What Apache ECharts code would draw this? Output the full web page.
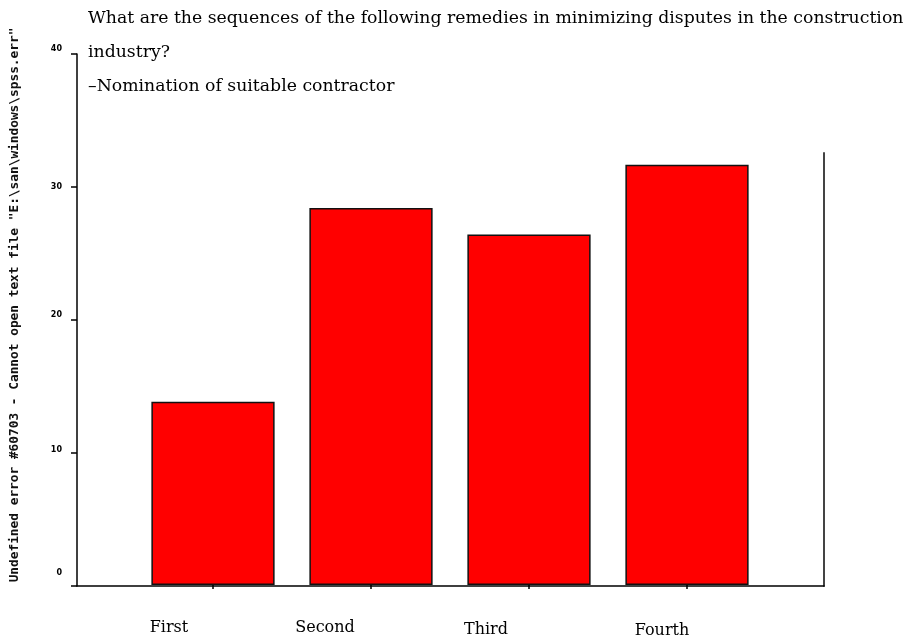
<!DOCTYPE html>
<html><head><meta charset="utf-8">
<script src="https://cdn.jsdelivr.net/npm/echarts@6/dist/echarts.min.js"></script>
<style>html,body{margin:0;padding:0;background:#fff}#c{width:909px;height:639px}</style>
</head><body><div id="c"></div>
<script>
const categories = ['First', 'Second', 'Third', 'Fourth'];
const values = [13.8, 28.4, 26.4, 31.65];
const yTicks = [0, 10, 20, 30, 40];
const titleLines = [
  'What are the sequences of the following remedies in minimizing disputes in the construction',
  'industry?',
  '\u2013Nomination of suitable contractor'
];
const sideNote = 'Undefined error #60703 - Cannot open text file "E:\\san\\windows\\spss.err"';

const yMin = yTicks[0], yMax = yTicks[yTicks.length - 1], yStep = yTicks[1] - yTicks[0];

// per-label small offsets to mimic the reference's jitter
const catRich = {
  c0: { padding: [0, 88, 0, 0] },
  c1: { padding: [0, 92, 0, 0] },
  c2: { padding: [2, 86, 0, 0] },
  c3: { padding: [3, 50, 0, 0] }
};
const yRich = {
  y0: { padding: [0, 0, 26, 0] },
  y10: { padding: [0, 0, 6, 0] },
  y20: { padding: [0, 0, 10, 0] },
  y30: { padding: [0, 0, 0, 0] },
  y40: { padding: [0, 0, 10, 0] }
};
Object.values(catRich).forEach(s => Object.assign(s, { fontFamily: 'DejaVu Serif', fontSize: 16, color: '#000' }));
Object.values(yRich).forEach(s => Object.assign(s, { fontFamily: 'DejaVu Sans', fontSize: 8, fontWeight: 'bold', color: '#000' }));

const chart = echarts.init(document.getElementById('c'), null, { renderer: 'canvas' });
chart.setOption({
  animation: false,
  backgroundColor: '#fff',
  title: {
    text: titleLines.join('\n'),
    left: 88, top: 2, padding: 0,
    textStyle: { fontFamily: 'DejaVu Serif', fontSize: 17.3, fontWeight: 'normal', color: '#000', lineHeight: 34 }
  },
  grid: [
    { left: 77, right: 85, top: 54, bottom: 53 },
    { left: 134, width: 632, top: 54, bottom: 53 },
    { left: 77, right: 85, top: 153, bottom: 53 }
  ],
  xAxis: [
    { gridIndex: 0, type: 'value', min: 0, max: 1,
      axisLine: { show: true, onZero: false, lineStyle: { color: '#000', width: 1.5 } },
      axisTick: { show: false }, axisLabel: { show: false }, splitLine: { show: false } },
    { gridIndex: 1, type: 'category', data: categories,
      axisLine: { show: false },
      axisTick: { show: true, alignWithLabel: true, length: 4, lineStyle: { color: '#000', width: 1.5 } },
      axisLabel: {
        margin: 35, interval: 0,
        formatter: (v, i) => '{c' + i + '|' + v + '}',
        rich: catRich
      } },
    { gridIndex: 2, type: 'value', min: 0, max: 1, show: false }
  ],
  yAxis: [
    { gridIndex: 0, type: 'value', min: yMin, max: yMax, interval: yStep,
      axisLine: { show: true, onZero: false, lineStyle: { color: '#000', width: 1.5 } },
      axisTick: { show: true, length: 6, lineStyle: { color: '#000', width: 1.5 } },
      axisLabel: { margin: 15, formatter: v => '{y' + v + '|' + v + '}', rich: yRich },
      splitLine: { show: false },
      name: sideNote, nameLocation: 'middle', nameRotate: 90, nameGap: 56,
      nameTextStyle: { fontFamily: 'DejaVu Sans Mono', fontSize: 12.8, fontWeight: 'bold', color: '#111', padding: [0, 0, 0, 30] } },
    { gridIndex: 1, type: 'value', min: yMin, max: yMax, show: false },
    { gridIndex: 2, type: 'value', position: 'right',
      axisLine: { show: true, onZero: false, lineStyle: { color: '#444', width: 2 } },
      axisTick: { show: false }, axisLabel: { show: false }, splitLine: { show: false } }
  ],
  series: [{
    type: 'bar', xAxisIndex: 1, yAxisIndex: 1, data: values, barWidth: '78%',
    itemStyle: { color: '#ff0000', borderColor: '#111', borderWidth: 1.5 }
  }]
});
</script></body></html>
